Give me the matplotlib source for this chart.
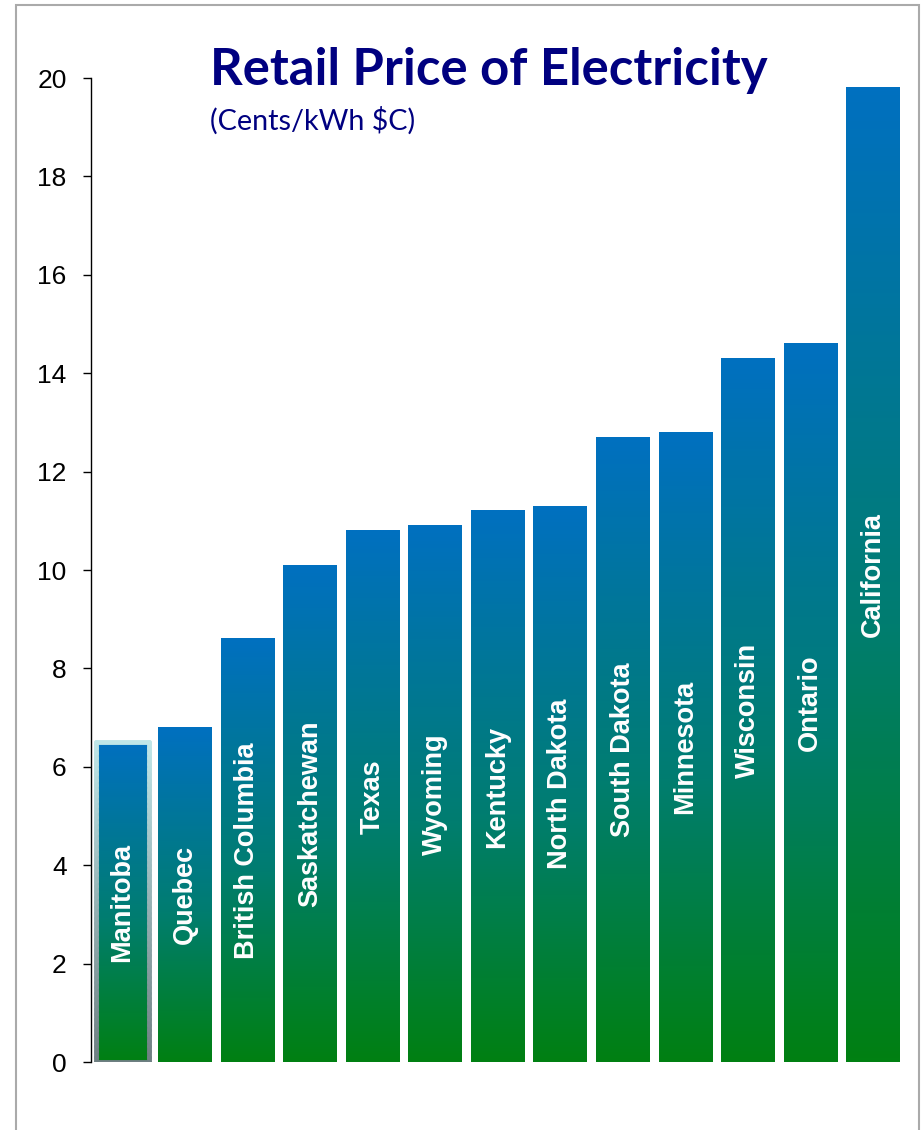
import numpy as np
import matplotlib
matplotlib.use("Agg")
import matplotlib.pyplot as plt
from matplotlib.colors import LinearSegmentedColormap
from matplotlib.patches import Rectangle
from matplotlib.collections import LineCollection

regions = ["Manitoba", "Quebec", "British Columbia", "Saskatchewan", "Texas",
           "Wyoming", "Kentucky", "North Dakota", "South Dakota", "Minnesota",
           "Wisconsin", "Ontario", "California"]
prices = [6.5, 6.8, 8.6, 10.1, 10.8, 10.9, 11.2, 11.3, 12.7, 12.8, 14.3, 14.6, 19.8]
yticks = [0, 2, 4, 6, 8, 10, 12, 14, 16, 18, 20]
title = "Retail Price of Electricity"
subtitle = "(Cents/kWh $C)"
highlight = "Manitoba"

W, H = 921, 1130
fig = plt.figure(figsize=(W / 100, H / 100), dpi=100)
fig.patch.set_facecolor("white")

# outer frame
fig.add_artist(Rectangle((16 / W, -0.01), (919 - 16) / W, 1.01 - 5 / H,
                         transform=fig.transFigure, fill=False,
                         edgecolor="#AAAAAA", linewidth=1.5))

ax = fig.add_axes([91 / W, 1 - 1062 / H, (904 - 91) / W, (1062 - 78) / H])
ax.set_xlim(-0.5, len(regions) - 0.5)
ax.set_ylim(0, 20)

cmap = LinearSegmentedColormap.from_list(
    "bg", [(0.0, "#008012"), (0.45, "#007D70"), (1.0, "#0070C0")])
grad = np.linspace(0, 1, 256).reshape(-1, 1)

x = np.arange(len(regions))
bars = ax.bar(x, prices, width=0.85, facecolor="none", edgecolor="none")
for bar, name in zip(bars, regions):
    x0, w, h = bar.get_x(), bar.get_width(), bar.get_height()
    ax.imshow(grad, cmap=cmap, origin="lower", aspect="auto",
              extent=[x0, x0 + w, 0, h], zorder=2)
    ax.text(x0 + w / 2, h / 2, name, rotation=90, ha="center", va="center",
            color="white", fontsize=19.5, fontweight="bold",
            family="Liberation Sans", zorder=4)
    if name == highlight:
        # gradient outline: light cyan at top to dark grey at bottom
        n = 60
        edge_cmap = LinearSegmentedColormap.from_list("e", ["#6E7F82", "#BFE6E8"])
        ys = np.linspace(0, h, n + 1)
        segs, cols = [], []
        for xe in (x0, x0 + w):
            for i in range(n):
                segs.append([(xe, ys[i]), (xe, ys[i + 1])])
                cols.append(edge_cmap(i / n))
        segs.append([(x0, h), (x0 + w, h)])
        cols.append(edge_cmap(1.0))
        segs.append([(x0, 0), (x0 + w, 0)])
        cols.append(edge_cmap(0.0))
        lc = LineCollection(segs, colors=cols, linewidths=3.5, zorder=3,
                            capstyle="round", joinstyle="round")
        ax.add_collection(lc)

ax.set_yticks(yticks)
ax.set_yticklabels([str(t) for t in yticks], fontsize=19, family="Liberation Sans")
ax.tick_params(axis="y", length=6, width=1, pad=11.5, color="black")
ax.set_xticks([])
for s in ("top", "right", "bottom"):
    ax.spines[s].set_visible(False)
ax.spines["left"].set_linewidth(1)
ax.spines["left"].set_bounds(0, 20)

fig.text(210 / W, 1 - 71 / H, title, fontsize=36.6, fontweight="bold",
         color="#000080", family="Lato", ha="left", va="center")
fig.text(210 / W, 1 - 121 / H, subtitle, fontsize=20.7,
         color="#000080", family="Lato", ha="left", va="center")

fig.savefig("out.png", dpi=100, facecolor="white")
